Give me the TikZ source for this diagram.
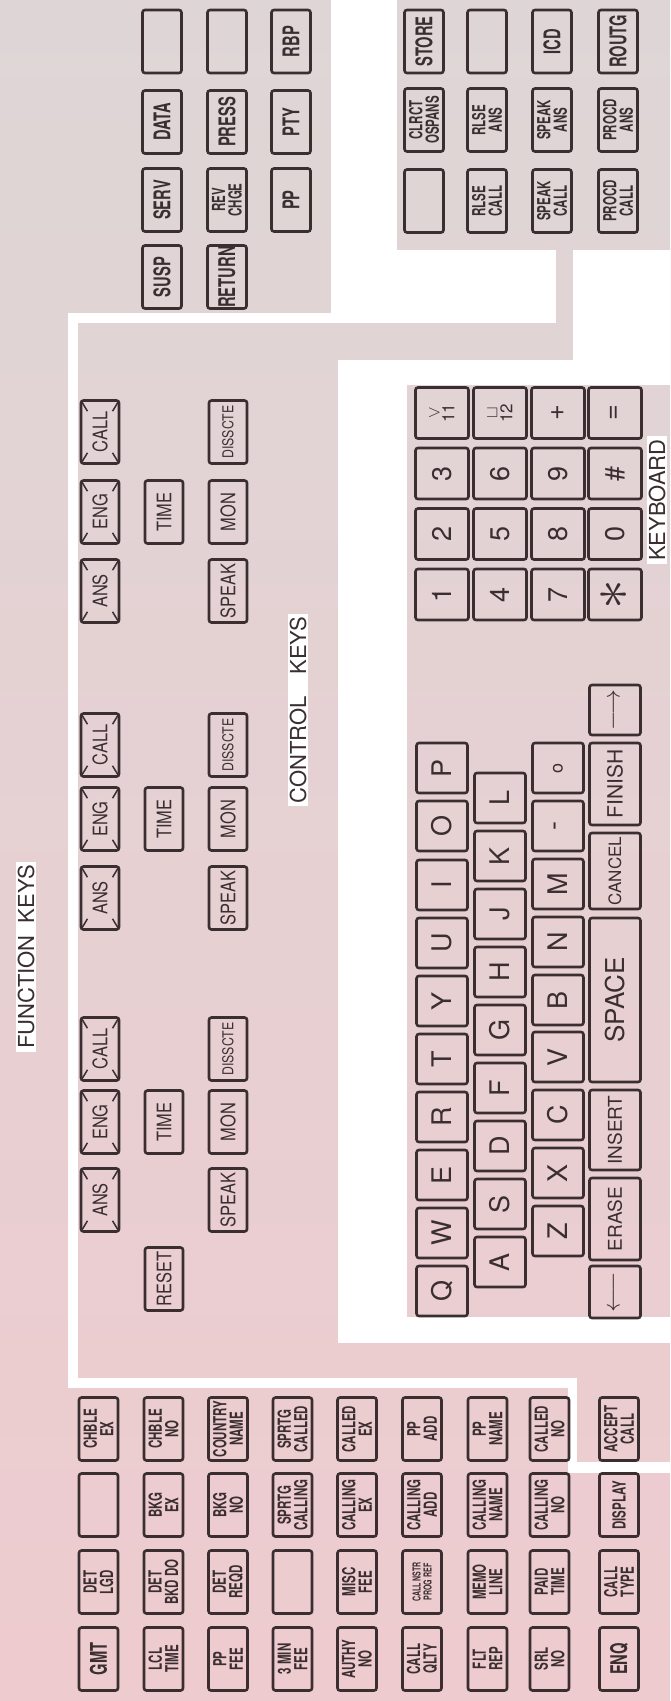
\documentclass[tikz,border=0pt]{standalone}
\usepackage{fontspec}
\setsansfont{TeX Gyre Heros}
\newfontfamily\teclafont{TeX Gyre Heros}[FakeStretch=0.64]
\newfontfamily\mandofont{TeX Gyre Heros}[FakeStretch=0.82]
\usetikzlibrary{calc}
\definecolor{fondoArriba}{RGB}{222,214,214}
\definecolor{fondoMedio}{RGB}{234,214,214}
\definecolor{fondoAbajo}{RGB}{238,203,207}
\definecolor{tinta}{RGB}{58,46,48}

\begin{document}
\begin{tikzpicture}[x=1pt, y=-1pt,
    tecla/.style={draw=tinta, line width=2.6pt, rounded corners=2.5pt, rotate=90,
      inner sep=0pt, align=center, text=tinta},
    fkey/.style={tecla, minimum width=63pt, minimum height=39pt,
      font=\teclafont\bfseries\fontsize{18}{16.5}\selectfont},
    grande/.style={font=\teclafont\bfseries\fontsize{23}{23}\selectfont},
    chica/.style={font=\teclafont\bfseries\fontsize{11}{11}\selectfont},
    ckey/.style={tecla, minimum width=63pt, minimum height=38pt,
      font=\mandofont\fontsize{20}{20}\selectfont},
    esq/.style={path picture={
      \draw[tinta, line width=1.5pt] (path picture bounding box.north west) -- ($(path picture bounding box.north west)!0.17!(path picture bounding box.south east)$);
      \draw[tinta, line width=1.5pt] (path picture bounding box.south east) -- ($(path picture bounding box.south east)!0.17!(path picture bounding box.north west)$);
      \draw[tinta, line width=1.5pt] (path picture bounding box.north east) -- ($(path picture bounding box.north east)!0.17!(path picture bounding box.south west)$);
      \draw[tinta, line width=1.5pt] (path picture bounding box.south west) -- ($(path picture bounding box.south west)!0.17!(path picture bounding box.north east)$);}},
    tkey/.style={tecla, minimum width=50pt, minimum height=51pt,
      font=\sffamily\fontsize{27}{27}\selectfont},
    nkey/.style={tkey, minimum width=51pt, minimum height=53pt},
    palabra/.style={font=\sffamily\fontsize{19}{19}\selectfont},
    titulo/.style={rotate=90, fill=white, inner xsep=3pt, inner ysep=2pt, text=tinta,
      font=\sffamily\fontsize{22}{22}\selectfont},
    canal/.style={fill=white}]

    \useasboundingbox (0,0) rectangle (670,1701);

    % Fondo (gris arriba, rosado abajo)
    \shade[top color=fondoArriba, middle color=fondoMedio, bottom color=fondoAbajo] (0,0) rectangle (670,1701);

    % Canales blancos que separan los paneles
    \fill[canal] (331,0) rectangle (397,323);
    \fill[canal] (68,313) rectangle (556,323);
    \fill[canal] (397,250) rectangle (556,323);
    \fill[canal] (573,250) rectangle (670,385);
    \fill[canal] (338,360) rectangle (670,385);
    \fill[canal] (338,360) rectangle (407,1343);
    \fill[canal] (338,1317) rectangle (670,1343);
    \fill[canal] (68,313) rectangle (78,1388);
    \fill[canal] (68,1378) rectangle (577,1388);
    \fill[canal] (568,1378) rectangle (577,1473);
    \fill[canal] (568,1462) rectangle (670,1473);

    % Panel superior izquierdo
    \node[fkey] (vacioA) at (162,41.5) {};
    \node[fkey, grande] (data) at (162,122) {DATA};
    \node[fkey, grande] (serv) at (162,200) {SERV};
    \node[fkey, grande] (susp) at (162,277) {SUSP};
    \node[fkey] (vacioB) at (227,41.5) {};
    \node[fkey, grande] (press) at (227,122) {PRESS};
    \node[fkey] (revchge) at (227,200) {REV\\CHGE};
    \node[fkey, grande] (retorno) at (227,277) {RETURN};
    \node[fkey, grande] (rbp) at (291,41.5) {RBP};
    \node[fkey, grande] (pty) at (291,122) {PTY};
    \node[fkey, grande] (pp) at (291,200) {PP};

    % Panel superior derecho
    \node[fkey, grande] (store) at (424,41.5) {STORE};
    \node[fkey] (clrct) at (424,120) {CLRCT\\OSPANS};
    \node[fkey] (vacioC) at (424,201) {};
    \node[fkey] (vacioD) at (487,41.5) {};
    \node[fkey] (rlseans) at (487,120) {RLSE\\ANS};
    \node[fkey] (rlsecall) at (487,201) {RLSE\\CALL};
    \node[fkey, grande] (icd) at (552,41.5) {ICD};
    \node[fkey] (speakans) at (552,120) {SPEAK\\ANS};
    \node[fkey] (speakcall) at (552,201) {SPEAK\\CALL};
    \node[fkey, grande] (routg) at (618,41.5) {ROUTG};
    \node[fkey] (procdans) at (618,120) {PROCD\\ANS};
    \node[fkey] (procdcall) at (618,201) {PROCD\\CALL};

    % Teclas de control, primer grupo
    \node[ckey, esq] (callA) at (100,432) {CALL};
    \node[ckey, esq] (engA) at (100,512) {ENG};
    \node[ckey, esq] (ansA) at (100,591) {ANS};
    \node[ckey] (timeA) at (164,512) {TIME};
    \node[ckey, font=\mandofont\fontsize{15}{15}\selectfont] (dissA) at (228,432) {DISSCTE};
    \node[ckey] (monA) at (228,512) {MON};
    \node[ckey] (speakA) at (228,591) {SPEAK};

    % Segundo grupo
    \node[ckey, esq] (callB) at (100,745) {CALL};
    \node[ckey, esq] (engB) at (100,819) {ENG};
    \node[ckey, esq] (ansB) at (100,898) {ANS};
    \node[ckey] (timeB) at (164,819) {TIME};
    \node[ckey, font=\mandofont\fontsize{15}{15}\selectfont] (dissB) at (228,745) {DISSCTE};
    \node[ckey] (monB) at (228,819) {MON};
    \node[ckey] (speakB) at (228,898) {SPEAK};

    % Tercer grupo y RESET
    \node[ckey, esq] (callC) at (100,1049) {CALL};
    \node[ckey, esq] (engC) at (100,1122) {ENG};
    \node[ckey, esq] (ansC) at (100,1200) {ANS};
    \node[ckey] (timeC) at (164,1122) {TIME};
    \node[ckey, font=\mandofont\fontsize{15}{15}\selectfont] (dissC) at (228,1049) {DISSCTE};
    \node[ckey] (monC) at (228,1122) {MON};
    \node[ckey] (speakC) at (228,1200) {SPEAK};
    \node[ckey] (reset) at (164,1279) {RESET};

    % Etiquetas de las zonas
    \node[titulo] (tFunc) at (26,957) {FUNCTION\ \ KEYS};
    \node[titulo] (tCtrl) at (298,710) {CONTROL\quad KEYS};
    \node[titulo] (tTecl) at (657,500) {KEYBOARD};

    % Teclado numerico
    \node[nkey, font=\sffamily\fontsize{17}{15}\selectfont] (k11) at (442,413) {$\vee$\\11};
    \node[nkey] (k3) at (442,473.5) {3};
    \node[nkey] (k2) at (442,534) {2};
    \node[nkey] (k1) at (442,594.5) {1};
    \node[nkey, font=\sffamily\fontsize{17}{15}\selectfont] (k12) at (500,413) {$\sqcup$\\12};
    \node[nkey] (k6) at (500,473.5) {6};
    \node[nkey] (k5) at (500,534) {5};
    \node[nkey] (k4) at (500,594.5) {4};
    \node[nkey] (kmas) at (558,413) {+};
    \node[nkey] (k9) at (558,473.5) {9};
    \node[nkey] (k8) at (558,534) {8};
    \node[nkey] (k7) at (558,594.5) {7};
    \node[nkey] (kigual) at (615,413) {=};
    \node[nkey] (kalm) at (615,473.5) {\#};
    \node[nkey] (k0) at (615,534) {0};
    \node[nkey] (kast) at (615,594.5) {\scalebox{2.4}{$\ast$}};

    % Letras, primera fila
    \node[tkey] (kQ) at (442,1291) {Q};
    \node[tkey] (kW) at (442,1233) {W};
    \node[tkey] (kE) at (442,1175) {E};
    \node[tkey] (kR) at (442,1117) {R};
    \node[tkey] (kT) at (442,1059) {T};
    \node[tkey] (kY) at (442,1001) {Y};
    \node[tkey] (kU) at (442,943) {U};
    \node[tkey] (kI) at (442,885) {I};
    \node[tkey] (kO) at (442,826) {O};
    \node[tkey] (kP) at (442,768) {P};

    % Segunda fila
    \node[tkey] (kA) at (500,1262) {A};
    \node[tkey] (kS) at (500,1204) {S};
    \node[tkey] (kD) at (500,1146) {D};
    \node[tkey] (kF) at (500,1088) {F};
    \node[tkey] (kG) at (500,1030) {G};
    \node[tkey] (kH) at (500,972) {H};
    \node[tkey] (kJ) at (500,914) {J};
    \node[tkey] (kK) at (500,856) {K};
    \node[tkey] (kL) at (500,798) {L};

    % Tercera fila
    \node[tkey] (kZ) at (558,1231) {Z};
    \node[tkey] (kX) at (558,1173) {X};
    \node[tkey] (kC) at (558,1115) {C};
    \node[tkey] (kV) at (558,1057) {V};
    \node[tkey] (kB) at (558,1000) {B};
    \node[tkey] (kN) at (558,942) {N};
    \node[tkey] (kM) at (558,884) {M};
    \node[tkey] (kguion) at (558,826) {-};
    \node[tkey, font=\sffamily\fontsize{18}{18}\selectfont] (kpunto) at (558,768) {o};

    % Cuarta fila (teclas largas)
    \node[tkey, minimum width=52pt] (kizq) at (615,1292) {$\longleftarrow$};
    \node[tkey, palabra, minimum width=82pt] (erase) at (615,1219) {ERASE};
    \node[tkey, palabra, minimum width=80pt] (insert) at (615,1130) {INSERT};
    \node[tkey, font=\sffamily\fontsize{26}{26}\selectfont, minimum width=164pt] (space) at (615,1000) {SPACE};
    \node[tkey, font=\sffamily\fontsize{17}{17}\selectfont, minimum width=76pt] (cancel) at (615,871) {CANCEL};
    \node[tkey, font=\sffamily\fontsize{21}{21}\selectfont, minimum width=82pt] (finish) at (615,784) {FINISH};
    \node[tkey] (kder) at (615,710) {$\longrightarrow$};

    % Teclas de funcion (cuatro por fila)
    \node[fkey, grande] (gmt) at (98.5,1659) {GMT};
    \node[fkey] (detlgd) at (98.5,1582) {DET\\LGD};
    \node[fkey] (vacioE) at (98.5,1505) {};
    \node[fkey] (chbleex) at (98.5,1429) {CHBLE\\EX};

    \node[fkey] (lcltime) at (163.5,1659) {LCL\\TIME};
    \node[fkey] (detbkd) at (163.5,1582) {DET\\BKD DO};
    \node[fkey] (bkgex) at (163.5,1505) {BKG\\EX};
    \node[fkey] (chbleno) at (163.5,1429) {CHBLE\\NO};

    \node[fkey] (ppfee) at (228,1659) {PP\\FEE};
    \node[fkey] (detreqd) at (228,1582) {DET\\REQD};
    \node[fkey] (bkgno) at (228,1505) {BKG\\NO};
    \node[fkey] (country) at (228,1429) {COUNTRY\\NAME};

    \node[fkey] (minfee) at (292.5,1659) {3 MIN\\FEE};
    \node[fkey] (vacioF) at (292.5,1582) {};
    \node[fkey] (sprtgcalling) at (292.5,1505) {SPRTG\\CALLING};
    \node[fkey] (sprtgcalled) at (292.5,1429) {SPRTG\\CALLED};

    \node[fkey] (authy) at (357,1659) {AUTHY\\NO};
    \node[fkey] (miscfee) at (357,1582) {MISC\\FEE};
    \node[fkey] (callingex) at (357,1505) {CALLING\\EX};
    \node[fkey] (calledex) at (357,1429) {CALLED\\EX};

    \node[fkey] (callqlty) at (422,1659) {CALL\\QLTY};
    \node[fkey, chica] (callnstr) at (422,1582) {CALL NSTR\\PROG REF};
    \node[fkey] (callingadd) at (422,1505) {CALLING\\ADD};
    \node[fkey] (ppadd) at (422,1429) {PP\\ADD};

    \node[fkey] (fltrep) at (487.5,1659) {FLT\\REP};
    \node[fkey] (memoline) at (487.5,1582) {MEMO\\LINE};
    \node[fkey] (callingname) at (487.5,1505) {CALLING\\NAME};
    \node[fkey] (ppname) at (487.5,1429) {PP\\NAME};

    \node[fkey] (srlno) at (549.5,1659) {SRL\\NO};
    \node[fkey] (paidtime) at (549.5,1582) {PAID\\TIME};
    \node[fkey] (callingno) at (549.5,1505) {CALLING\\NO};
    \node[fkey] (calledno) at (549.5,1429) {CALLED\\NO};

    \node[fkey, grande] (enq) at (619,1659) {ENQ};
    \node[fkey] (calltype) at (619,1582) {CALL\\TYPE};
    \node[fkey] (display) at (619,1505) {DISPLAY};
    \node[fkey] (accept) at (619,1429) {ACCEPT\\CALL};

\end{tikzpicture}
\end{document}
